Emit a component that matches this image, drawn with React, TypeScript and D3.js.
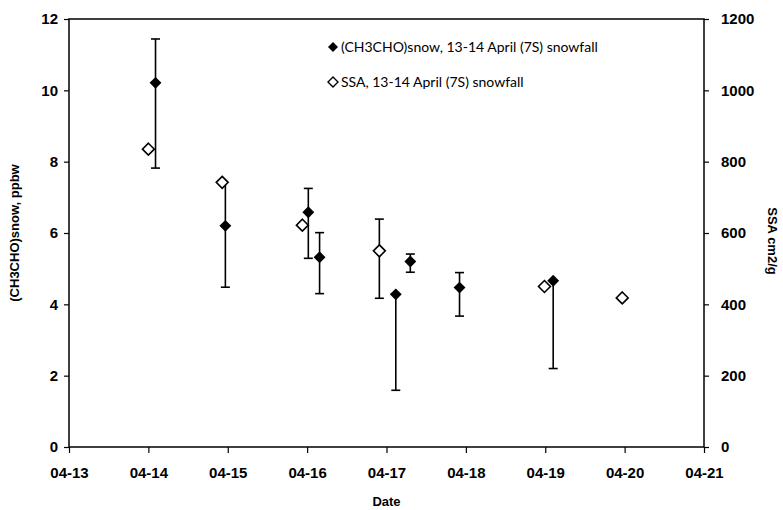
import React, { useEffect, useRef } from 'react';
import * as d3 from 'd3';

// dates are April day numbers (fractional days)
const chemDays = [14.09, 14.97, 16.015, 16.157, 17.117, 17.3, 17.92, 19.1];
const chemValues = [10.21, 6.2, 6.58, 5.32, 4.28, 5.2, 4.47, 4.66];
const chemLow = [7.82, 4.48, 5.29, 4.3, 1.59, 4.9, 3.67, 2.2];
const chemHigh = [11.44, 7.35, 7.25, 6.01, 4.28, 5.41, 4.89, 4.66];

const ssaDays = [14.0, 14.93, 15.94, 16.91, 18.99, 19.97];
const ssaValues = [835, 742, 622, 550, 450, 418];
const ssaLow = [835, 742, 622, 417, 450, 418];
const ssaHigh = [835, 742, 622, 639, 450, 418];

const leftTicks = [0, 2, 4, 6, 8, 10, 12];
const rightTicks = [0, 200, 400, 600, 800, 1000, 1200];
const dayTicks = [13, 14, 15, 16, 17, 18, 19, 20, 21];

const legendLabels = [
  '(CH3CHO)snow, 13-14 April (7S) snowfall',
  'SSA, 13-14 April (7S) snowfall',
];

const toDate = (d: number) => new Date(Date.UTC(2000, 3, 1) + (d - 1) * 86400000);

export default function App() {
  const ref = useRef<SVGSVGElement>(null);

  useEffect(() => {
    const width = 783;
    const height = 510;
    const m = { left: 69, right: 79, top: 19, bottom: 63 };

    const svg = d3.select(ref.current);
    svg.selectAll('*').remove();

    const x = d3.scaleUtc()
      .domain([toDate(13), toDate(21)])
      .range([m.left, width - m.right]);
    const yL = d3.scaleLinear().domain([0, 12]).range([height - m.bottom, m.top]);
    const yR = d3.scaleLinear().domain([0, 1200]).range([height - m.bottom, m.top]);

    const tickFont = (g: any) => g
      .style('font-family', '"Liberation Sans", Arial, sans-serif')
      .style('font-weight', 'bold')
      .style('font-size', '15px');

    // frame
    svg.append('rect')
      .attr('x', m.left).attr('y', m.top)
      .attr('width', width - m.left - m.right)
      .attr('height', height - m.top - m.bottom)
      .attr('fill', 'none').attr('stroke', '#000').attr('stroke-width', 1.5);

    svg.append('g')
      .attr('transform', `translate(0,${height - m.bottom})`)
      .call(d3.axisBottom(x).tickValues(dayTicks.map(toDate))
        .tickFormat(d3.utcFormat('%m-%d') as any).tickSize(6).tickPadding(14))
      .call(tickFont)
      .call(g => g.select('.domain').remove());

    svg.append('g')
      .attr('transform', `translate(${m.left},0)`)
      .call(d3.axisLeft(yL).tickValues(leftTicks).tickSize(5).tickPadding(6))
      .call(tickFont)
      .call(g => g.select('.domain').remove());

    svg.append('g')
      .attr('transform', `translate(${width - m.right},0)`)
      .call(d3.axisRight(yR).tickValues(rightTicks).tickFormat(d3.format('d')).tickSize(5).tickPadding(12))
      .call(tickFont)
      .call(g => g.select('.domain').remove());

    svg.selectAll('.tick line').attr('stroke-width', 1.2);

    // axis titles
    const titleFont = (t: any) => t
      .style('font-family', '"Liberation Sans", Arial, sans-serif')
      .style('font-weight', 'bold')
      .style('font-size', '13px')
      .attr('text-anchor', 'middle');

    svg.append('text')
      .attr('x', (m.left + width - m.right) / 2).attr('y', 506)
      .text('Date').call(titleFont);

    svg.append('text')
      .attr('transform', `translate(19,${(m.top + height - m.bottom) / 2}) rotate(-90)`)
      .text('(CH3CHO)snow, ppbw').call(titleFont);

    svg.append('text')
      .attr('transform', `translate(768,${(m.top + height - m.bottom) / 2 + 8}) rotate(90)`)
      .text('SSA cm2/g').call(titleFont);

    const diamond = d3.symbol().type(d3.symbolDiamond2).size(90);
    const cap = 4.5;

    // chem error bars
    const eb = svg.append('g').attr('stroke', '#000').attr('stroke-width', 1.6);
    chemDays.forEach((d, i) => {
      const cx = x(toDate(d));
      if (chemHigh[i] > chemLow[i]) {
        eb.append('line').attr('x1', cx).attr('x2', cx)
          .attr('y1', yL(chemLow[i])).attr('y2', yL(chemHigh[i]));
        if (chemLow[i] < chemValues[i])
          eb.append('line').attr('x1', cx - cap).attr('x2', cx + cap)
            .attr('y1', yL(chemLow[i])).attr('y2', yL(chemLow[i]));
        if (chemHigh[i] > chemValues[i] && i !== 1)
          eb.append('line').attr('x1', cx - cap).attr('x2', cx + cap)
            .attr('y1', yL(chemHigh[i])).attr('y2', yL(chemHigh[i]));
      }
    });
    ssaDays.forEach((d, i) => {
      if (ssaHigh[i] <= ssaLow[i]) return;
      const cx = x(toDate(d));
      eb.append('line').attr('x1', cx).attr('x2', cx)
        .attr('y1', yR(ssaLow[i])).attr('y2', yR(ssaHigh[i]));
      [ssaLow[i], ssaHigh[i]].forEach(v => eb.append('line')
        .attr('x1', cx - cap).attr('x2', cx + cap)
        .attr('y1', yR(v)).attr('y2', yR(v)));
    });

    // SSA open diamonds
    svg.append('g').selectAll('path').data(ssaDays).join('path')
      .attr('d', diamond)
      .attr('transform', (d, i) => `translate(${x(toDate(d))},${yR(ssaValues[i])})`)
      .attr('fill', '#fff').attr('stroke', '#000').attr('stroke-width', 1.6);

    // chem filled diamonds
    svg.append('g').selectAll('path').data(chemDays).join('path')
      .attr('d', diamond)
      .attr('transform', (d, i) => `translate(${x(toDate(d))},${yL(chemValues[i])})`)
      .attr('fill', '#000');

    // legend
    const lg = svg.append('g').attr('transform', 'translate(333,47)');
    legendLabels.forEach((label, i) => {
      const row = lg.append('g').attr('transform', `translate(0,${i * 35})`);
      row.append('path')
        .attr('d', d3.symbol().type(d3.symbolDiamond2).size(64)())
        .attr('fill', i === 0 ? '#000' : '#fff')
        .attr('stroke', '#000').attr('stroke-width', i === 0 ? 0 : 1.4);
      row.append('text').attr('x', 8).attr('y', 5)
        .style('font-family', 'Lato, "DejaVu Sans", sans-serif')
        .style('font-size', '14px')
        .text(label);
    });
  }, []);

  return (
    <svg ref={ref} width={783} height={510}
      style={{ position: 'absolute', left: 0, top: 0, background: '#fff' }} />
  );
}
